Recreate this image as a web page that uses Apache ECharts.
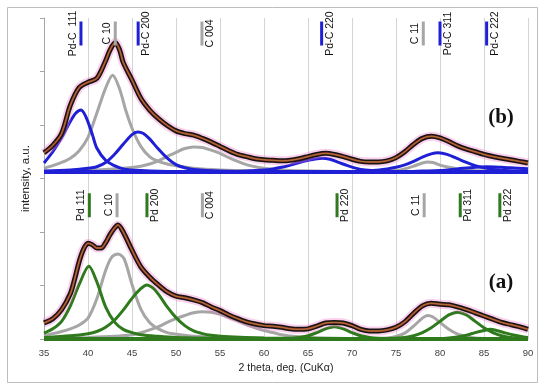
<!DOCTYPE html>
<html>
<head>
<meta charset="utf-8">
<script src="https://cdn.jsdelivr.net/npm/echarts@6/dist/echarts.min.js"></script>
<style>
html,body{margin:0;padding:0;background:#fff;}
#chart{width:550px;height:392px;}
</style>
</head>
<body>
<div id="chart"></div>
<script>
// ---------- DATA ----------
const xTicks = [35,40,45,50,55,60,65,70,75,80,85,90];

// measured pattern (a), intensity above its own baseline
const expAX = [35,36,37,38,38.5,39,39.5,40,40.5,41,41.5,42,42.5,43,43.4,44,45,46,47,48,49,50,51,52,53,54,55,56,57,58,59,60,61,62,63,64,65,66,67,68,69,70,71,72,73,74,75,76,77,78,79,80,81,82,83,84,85,86,87,88,89,90];
const expAY = [0.30,0.38,0.55,0.85,1.13,1.45,1.68,1.79,1.76,1.70,1.70,1.80,1.95,2.07,2.13,2.00,1.66,1.35,1.16,1.01,0.88,0.80,0.77,0.73,0.68,0.60,0.53,0.45,0.38,0.32,0.28,0.25,0.24,0.22,0.19,0.18,0.19,0.24,0.30,0.31,0.30,0.25,0.18,0.15,0.15,0.17,0.22,0.32,0.48,0.62,0.67,0.65,0.64,0.60,0.55,0.49,0.43,0.37,0.31,0.27,0.23,0.18];

// measured pattern (b)
const expBX = [35,36,37,38,39,40,41,42,42.5,43.1,43.6,44,45,46,47,48,49,50,51,52,53,54,55,56,57,58,59,60,61,62,63,64,65,66,67,68,69,70,71,72,73,74,75,76,77,78,79,80,81,82,83,84,85,86,87,88,89,90];
const expBY = [0.36,0.50,0.72,1.25,1.58,1.68,1.75,2.08,2.28,2.42,2.28,2.05,1.72,1.38,1.16,1.00,0.87,0.77,0.72,0.69,0.63,0.56,0.48,0.40,0.33,0.29,0.25,0.23,0.22,0.21,0.22,0.25,0.29,0.33,0.35,0.33,0.29,0.24,0.20,0.19,0.19,0.21,0.27,0.38,0.52,0.63,0.67,0.64,0.57,0.49,0.43,0.38,0.33,0.29,0.26,0.23,0.20,0.17];

// fitted components, pattern (a)
const aPd111X = [35,36,37,38,39,40.1,41,42,43,44,45,46,48,50,55,60,90];
const aPd111Y = [0.11,0.19,0.33,0.62,1.02,1.36,1.07,0.60,0.32,0.18,0.12,0.08,0.05,0.03,0.015,0.01,0];
const aC10X = [35,36,37,38,39,40,41,42,42.7,43.4,44.1,45,46,47,48,49,50,52,55,60,70,90];
const aC10Y = [0.07,0.10,0.14,0.19,0.26,0.39,0.75,1.28,1.53,1.59,1.50,1.02,0.56,0.31,0.19,0.12,0.09,0.05,0.03,0.015,0.005,0];
const aPd200X = [35,38,40,41,42,43,44,45,46,46.7,47.4,48,49,50,51,52,53,54,56,60,70,90];
const aPd200Y = [0.03,0.06,0.10,0.14,0.22,0.35,0.54,0.76,0.94,1.01,0.95,0.84,0.60,0.40,0.25,0.15,0.10,0.07,0.04,0.02,0.01,0];
const aC004X = [35,40,43,45,46,47,48,49,50,51,52,53,54,55,56,57,58,59,60,61,62,64,66,70,90];
const aC004Y = [0.01,0.03,0.05,0.08,0.12,0.17,0.23,0.31,0.38,0.44,0.49,0.51,0.50,0.46,0.40,0.34,0.27,0.21,0.16,0.12,0.08,0.04,0.02,0.01,0];
const aPd220X = [35,60,63,64,65,66,67,68,69,70,71,72,73,75,90];
const aPd220Y = [0,0.005,0.01,0.03,0.06,0.12,0.19,0.23,0.19,0.12,0.06,0.03,0.015,0.005,0];
const aC11X = [35,72,74,75,76,77,78,78.6,79.2,80,81,82,83,84,86,90];
const aC11Y = [0,0.005,0.02,0.05,0.11,0.24,0.39,0.44,0.41,0.31,0.18,0.09,0.045,0.02,0.01,0];
const aPd311X = [35,74,76,77,78,79,80,81,82,83,84,85,86,87,88,90];
const aPd311Y = [0,0.01,0.03,0.06,0.12,0.21,0.33,0.45,0.50,0.45,0.33,0.21,0.12,0.06,0.03,0.01];
const aPd222X = [35,80,81,82,83,84,85,85.7,86.4,87.5,88.5,89.5,90];
const aPd222Y = [0,0.01,0.02,0.04,0.07,0.12,0.16,0.18,0.16,0.11,0.07,0.04,0.03];

// fitted components, pattern (b)
const bPd111X = [35,36,37,38,38.6,39.2,39.8,40.5,41,42,43,44,46,50,90];
const bPd111Y = [0.17,0.38,0.64,0.95,1.10,1.16,1.02,0.70,0.45,0.22,0.12,0.06,0.03,0.01,0];
const bC10X = [35,36,37,38,39,40,41,42,42.8,43.6,44.3,45,46,47,48,49,50,52,55,60,70,90];
const bC10Y = [0.07,0.12,0.18,0.26,0.40,0.65,1.10,1.57,1.81,1.55,1.15,0.82,0.48,0.29,0.20,0.15,0.12,0.07,0.04,0.02,0.01,0];
const bPd200X = [35,38,40,41,42,43,44,45,45.65,46.3,47,48,49,50,51,52,55,60,90];
const bPd200Y = [0.02,0.04,0.07,0.10,0.18,0.33,0.52,0.70,0.75,0.72,0.62,0.43,0.26,0.14,0.08,0.05,0.02,0.01,0];
const bC004X = [35,40,44,46,47,48,49,50,51,52,53,54,55,56,57,58,59,60,62,65,70,90];
const bC004Y = [0.01,0.03,0.07,0.11,0.15,0.21,0.29,0.37,0.44,0.47,0.46,0.41,0.35,0.27,0.20,0.14,0.10,0.07,0.04,0.02,0.01,0];
const bPd220X = [35,56,58,60,61,62,63,64,65,66,66.6,67.5,68.5,69.5,70.5,71.5,73,75,90];
const bPd220Y = [0,0.01,0.02,0.04,0.06,0.09,0.13,0.18,0.22,0.25,0.26,0.24,0.18,0.12,0.07,0.04,0.02,0.01,0];
const bC11X = [35,73,75,76,77,78,78.6,79.2,80,81,82,83,85,88,90];
const bC11Y = [0,0.005,0.03,0.06,0.11,0.17,0.19,0.18,0.13,0.09,0.06,0.04,0.02,0.01,0.005];
const bPd311X = [35,70,72,73,74,75,76,77,78,79,79.8,80.8,82,83,84,85,86,88,90];
const bPd311Y = [0,0.01,0.02,0.04,0.06,0.09,0.135,0.20,0.28,0.34,0.36,0.33,0.25,0.18,0.12,0.08,0.05,0.025,0.015];
const bPd222X = [35,76,78,80,82,84,85.3,87,88,90];
const bPd222Y = [0,0.01,0.02,0.03,0.06,0.09,0.10,0.09,0.08,0.06];

// reflection markers
const labelsB = ['Pd-C  111','C 10','Pd-C 200','C 004','Pd-C 220','C 11','Pd-C 311','Pd-C 222'];
const labelsBX = [39.2,43.1,45.7,52.95,66.55,78.1,80.0,85.3];
const labelsA = ['Pd 111','C 10','Pd 200','C 004','Pd 220','C 11','Pd 311','Pd 222'];
const labelsAX = [40.15,43.3,46.7,53.0,68.3,78.2,82.3,86.8];

// ---------- LAYOUT / STYLE ----------
const OFFSET_B = 3.12;        // vertical shift of pattern (b)
const LABEL_Y_B = 5.71;       // marker centre (b)
const LABEL_Y_A = 2.50;       // marker centre (a)
const BLUE = '#1f1fd6', GRAY = '#a6a6a6', GREEN = '#2f7a1c';

function pairs(xs, ys, off){ return xs.map((x,i)=>[x, ys[i] + (off||0)]); }
function comp(xs, ys, off, color){
  return {type:'line', data:pairs(xs,ys,off), showSymbol:false, smooth:0.3,
    lineStyle:{color:color, width:3}, z:2, silent:true, animation:false};
}
function expSeries(xs, ys, off){
  return [
    {type:'line', data:pairs(xs,ys,off), showSymbol:false, smooth:0.3, lineStyle:{color:'rgba(240,120,200,0.35)', width:9}, z:3, animation:false},
    {type:'line', data:pairs(xs,ys,off), showSymbol:false, smooth:0.3, lineStyle:{color:'#141414', width:5}, z:4, animation:false},
    {type:'line', data:pairs(xs,ys,off), showSymbol:false, smooth:0.3, lineStyle:{color:'#b3362a', width:2}, z:5, animation:false},
    {type:'line', data:pairs(xs,ys,off), showSymbol:false, smooth:0.3, lineStyle:{color:'#9a9a3a', width:0.7}, z:6, animation:false}
  ];
}
function baseline(off, color){
  return {type:'line', data:[[35,off],[90,off]], showSymbol:false, lineStyle:{color:color,width:4}, z:2, animation:false};
}
function labelSeries(texts, xs, yc, pdColor){
  return {
    type:'custom', z:10, animation:false, silent:true,
    data: xs.map((x,i)=>[x, yc, i]),
    renderItem: function(params, api){
      const i = api.value(2);
      const t = texts[i];
      const isC = t.indexOf('C ') === 0;
      const color = isC ? GRAY : pdColor;
      const p = api.coord([api.value(0), api.value(1)]);
      const leftSide = (t === 'C 10' || t === 'C 11' || i === 0);
      const dx = leftSide ? -8 : 8;
      return {type:'group', children:[
        {type:'rect', shape:{x:p[0]-1.5, y:p[1]-12, width:3, height:24}, style:{fill:color}},
        {type:'text', x:p[0]+dx, y:p[1], rotation:Math.PI/2,
          style:{text:t, align:'center', verticalAlign:'middle', fill:'#111',
                 font:'10.5px "Liberation Sans", Arial, sans-serif'}}
      ]};
    }
  };
}

const series = [];
series.push(comp(aC10X,aC10Y,0,GRAY), comp(aC004X,aC004Y,0,GRAY), comp(aC11X,aC11Y,0,GRAY));
series.push(comp(aPd111X,aPd111Y,0,GREEN), comp(aPd200X,aPd200Y,0,GREEN), comp(aPd220X,aPd220Y,0,GREEN), comp(aPd311X,aPd311Y,0,GREEN), comp(aPd222X,aPd222Y,0,GREEN));
series.push(comp(bC10X,bC10Y,OFFSET_B,GRAY), comp(bC004X,bC004Y,OFFSET_B,GRAY), comp(bC11X,bC11Y,OFFSET_B,GRAY));
series.push(comp(bPd111X,bPd111Y,OFFSET_B,BLUE), comp(bPd200X,bPd200Y,OFFSET_B,BLUE), comp(bPd220X,bPd220Y,OFFSET_B,BLUE), comp(bPd311X,bPd311Y,OFFSET_B,BLUE), comp(bPd222X,bPd222Y,OFFSET_B,BLUE));
series.push(baseline(0, GREEN), baseline(OFFSET_B, BLUE));
series.push(...expSeries(expAX, expAY, 0));
series.push(...expSeries(expBX, expBY, OFFSET_B));
series.push(labelSeries(labelsB, labelsBX, LABEL_Y_B, BLUE));
series.push(labelSeries(labelsA, labelsAX, LABEL_Y_A, GREEN));

const chart = echarts.init(document.getElementById('chart'), null, {renderer:'canvas'});
chart.setOption({
  animation:false,
  backgroundColor:'#fff',
  grid:{left:44, right:22, top:18, bottom:53},
  xAxis:{type:'value', min:35, max:90, interval:5,
    name:'2 theta, deg. (CuK\u03b1)', nameLocation:'middle', nameGap:24,
    nameTextStyle:{color:'#222', fontSize:10.5, fontFamily:'"Liberation Sans", Arial, sans-serif'},
    axisLine:{show:true, onZero:false, lineStyle:{color:'#bfbfbf'}},
    axisTick:{show:false},
    axisLabel:{color:'#404040', fontSize:9.5, margin:9, fontFamily:'"Liberation Sans", Arial, sans-serif',
      formatter:function(v){ return xTicks.indexOf(v) >= 0 ? String(v) : ''; }},
    splitLine:{show:true, lineStyle:{color:'#d4d4d4', width:1}}
  },
  yAxis:{type:'value', min:0, max:6, interval:1,
    name:'intensity, a.u.', nameLocation:'middle', nameGap:12,
    nameTextStyle:{color:'#222', fontSize:11.5, fontFamily:'"Liberation Sans", Arial, sans-serif'},
    axisLine:{show:true, lineStyle:{color:'#a6a6a6'}},
    axisTick:{show:true, length:4, lineStyle:{color:'#a6a6a6'}},
    axisLabel:{show:false},
    splitLine:{show:false}
  },
  graphic:[
    {type:'rect', shape:{x:7.5, y:7.5, width:530, height:375}, style:{fill:null, stroke:'#bdbdbd', lineWidth:1}, z:100, silent:true},
    {type:'text', x:501, y:118, style:{text:'(b)', align:'center', verticalAlign:'middle', fill:'#111',
      font:'bold 21px "Liberation Serif", "Times New Roman", serif'}, z:100},
    {type:'text', x:501, y:283, style:{text:'(a)', align:'center', verticalAlign:'middle', fill:'#111',
      font:'bold 21px "Liberation Serif", "Times New Roman", serif'}, z:100}
  ],
  series: series
});
</script>
</body>
</html>
